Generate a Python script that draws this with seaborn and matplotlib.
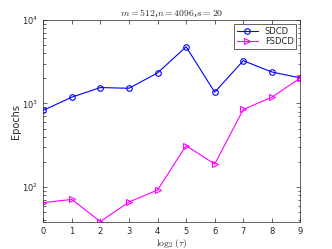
import numpy as np
import pandas as pd
import matplotlib
matplotlib.use("Agg")
import matplotlib.pyplot as plt
import seaborn as sns

# values (log scale)
log_tau = [0, 1, 2, 3, 4, 5, 6, 7, 8, 9]
sdcd = [826, 1190, 1550, 1520, 2320, 4770, 1365, 3250, 2380, 2020]
fsdcd = [65, 71, 38.6, 66, 92, 313, 188, 848, 1190, 2020]

sns.set_style("ticks")
plt.rcParams["font.family"] = ["DejaVu Sans"]
plt.rcParams["mathtext.fontset"] = "cm"

df = pd.DataFrame({
    "x": log_tau * 2,
    "Epochs": sdcd + fsdcd,
    "method": ["SDCD"] * len(sdcd) + ["FSDCD"] * len(fsdcd),
})

fig, ax = plt.subplots(figsize=(3.32, 2.49), dpi=100)
sns.lineplot(data=df, x="x", y="Epochs", hue="method", style="method",
             palette={"SDCD": "#0000ff", "FSDCD": "#ff00ff"},
             markers={"SDCD": "o", "FSDCD": ">"}, dashes=False,
             linewidth=0.8, markersize=4, markerfacecolor="none",
             markeredgewidth=0.8, ax=ax)
for line in ax.lines:
    line.set_markerfacecolor("none")
    line.set_markeredgecolor(line.get_color())

ax.set_yscale("log")
ax.set_xlim(0, 9)
ax.set_ylim(38, 1e4)
ax.set_xticks(log_tau)
ax.tick_params(axis="both", which="both", direction="in", top=True, right=True,
               labelsize=6, width=0.5, colors="#262626")
ax.tick_params(which="major", length=3)
ax.tick_params(which="minor", length=1.8)
for s in ax.spines.values():
    s.set_linewidth(0.5)
    s.set_color("#262626")

ax.set_xlabel(r"$\log_2(\tau)$", fontsize=7, labelpad=1)
ax.set_ylabel("Epochs", fontsize=7)
ax.yaxis.set_label_coords(-0.085, 0.5)
ax.set_title(r"$m=512$,$n=4096$,$s=20$", fontsize=7, pad=3)

leg = ax.legend(loc="upper right", fontsize=6, frameon=True, fancybox=False,
                edgecolor="#262626", framealpha=1, borderpad=0.3,
                handlelength=2.6, labelspacing=0.2, borderaxespad=0.5)
leg.get_frame().set_linewidth(0.5)
for h in leg.get_lines():
    h.set_markerfacecolor("none")

fig.subplots_adjust(left=0.13, right=0.905, top=0.92, bottom=0.108)
fig.savefig("out.png", dpi=100)
